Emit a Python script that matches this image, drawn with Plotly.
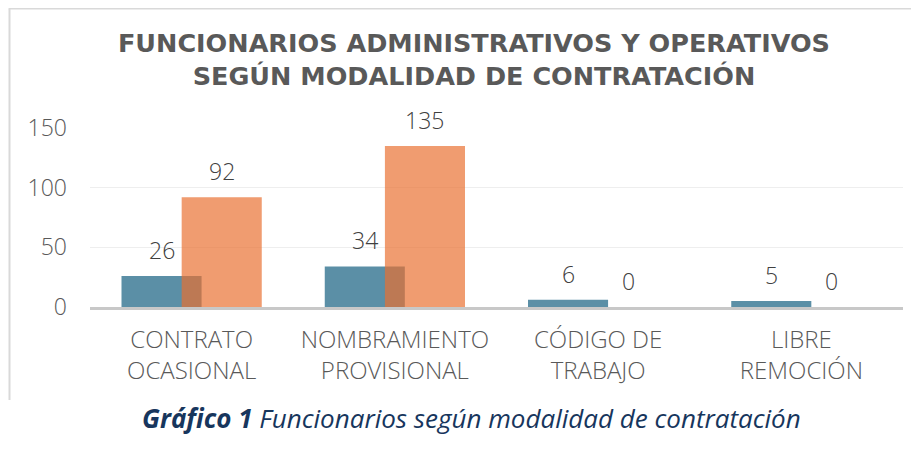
import plotly.graph_objects as go

categories = ["CONTRATO<br>OCASIONAL", "NOMBRAMIENTO<br>PROVISIONAL", "CÓDIGO DE<br>TRABAJO", "LIBRE<br>REMOCIÓN"]
administrativos = [26, 34, 6, 5]
operativos = [92, 135, 0, 0]
y_ticks = [0, 50, 100, 150]

title_text = "FUNCIONARIOS ADMINISTRATIVOS Y OPERATIVOS<br>SEGÚN MODALIDAD DE CONTRATACIÓN"
caption_bold = "Gráfico 1"
caption_rest = " Funcionarios según modalidad de contratación"

FONT = "Open Sans"
BLUE = "rgb(91,143,166)"
ORANGE = "rgba(233,112,48,0.69)"
LABEL = "#404040"
AXIS = "#595959"

BAR_W = 0.394
OFFSETS = [-0.345, -0.049]
series = [(administrativos, BLUE, "Administrativos"), (operativos, ORANGE, "Operativos")]

fig = go.Figure()
annotations = []
for (vals, col, name), off in zip(series, OFFSETS):
    fig.add_trace(go.Bar(
        x=categories, y=vals, name=name,
        marker=dict(color=col, line=dict(width=0)),
        width=BAR_W, offset=off,
    ))
    for i, v in enumerate(vals):
        annotations.append(dict(
            x=i + off + BAR_W / 2, y=v, xref="x", yref="y",
            text=str(v), showarrow=False, xanchor="center", yanchor="bottom",
            yshift=8, font=dict(family=FONT, size=23, color=LABEL, weight=300),
        ))

annotations.append(dict(
    text="<b><i>" + caption_bold + "</i></b><i>" + caption_rest + "</i>",
    xref="paper", yref="paper", x=0.469, y=-0.62,
    xanchor="center", yanchor="middle", showarrow=False,
    font=dict(family=FONT, size=26, color="#17365d"),
))

fig.update_layout(
    width=911, height=447,
    margin=dict(l=82, r=16, t=120, b=148),
    paper_bgcolor="white", plot_bgcolor="white",
    barmode="overlay", showlegend=False,
    font=dict(family=FONT, color=AXIS),
    title=dict(
        text="<b>" + title_text + "</b>",
        x=0.5115, xanchor="center", y=0.901, yanchor="middle",
        font=dict(family="DejaVu Sans", size=25.5, color="#595959"),
    ),
    xaxis=dict(
        type="category", showgrid=False,
        showline=True, linecolor="#c8c8c8", linewidth=3,
        tickfont=dict(family=FONT, size=24, color=AXIS, weight=300),
        ticks="", ticklabelstandoff=9,
    ),
    yaxis=dict(
        range=[0, 150], tickvals=y_ticks,
        showgrid=True, gridcolor="#eeeeee", gridwidth=1,
        zeroline=False, showline=False,
        tickfont=dict(family=FONT, size=23, color=AXIS, weight=300),
        ticks="", ticklabelstandoff=22,
    ),
    annotations=annotations,
    shapes=[
        dict(type="line", xref="paper", yref="paper", x0=-0.1, x1=1.03, y0=1.6676, y1=1.6676,
             line=dict(color="#d9d9d9", width=2), layer="below"),
        dict(type="line", xref="paper", yref="paper", x0=-0.099, x1=-0.099, y0=1.6676, y1=-0.52,
             line=dict(color="#d9d9d9", width=2), layer="below"),
    ],
)

fig.write_html("out.html")
